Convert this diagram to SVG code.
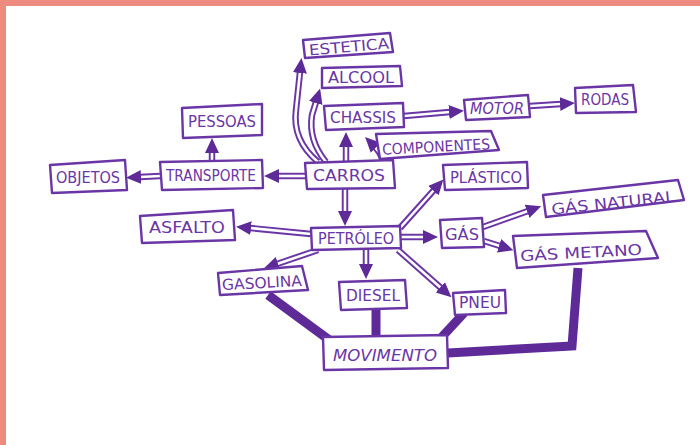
<svg xmlns="http://www.w3.org/2000/svg" width="700" height="445" viewBox="0 0 700 445">
<style>
.bx{fill:#fff;stroke:#6a36a6;stroke-width:2.4;stroke-linejoin:round}
.tx{font-family:"DejaVu Sans",sans-serif;font-size:15px;fill:#6a36a6;text-anchor:middle}
.so{fill:none;stroke:#6a36a6;stroke-width:6.5;stroke-linecap:butt;stroke-linejoin:round}
.si{fill:none;stroke:#fff;stroke-width:2.6;stroke-linejoin:round}
.th{fill:none;stroke:#5e2a98;stroke-width:9;stroke-linejoin:miter}
</style>
<defs>
<marker id="ah" markerUnits="userSpaceOnUse" markerWidth="16" markerHeight="16" refX="1" refY="7" orient="auto" viewBox="0 0 16 14">
<path d="M0,0 L15,7 L0,14 z" fill="#5e2a98"/>
</marker>
</defs>
<rect x="0" y="0" width="700" height="445" fill="#fff"/>
<rect x="0" y="0" width="700" height="6" fill="#ee8b80"/>
<rect x="0" y="0" width="6" height="445" fill="#ee8b80"/>

<g id="connectors">
<path class="th" d="M268,295 L332,342"/>
<path class="th" d="M376,310 L376,337"/>
<path class="th" d="M464,313 L440,339"/>
<path class="th" d="M578,268 L572,346 L448,353"/>

<path class="so" d="M318,162 Q292,140 296,110 L300,72"/><path class="si" d="M318,162 Q292,140 296,110 L300,72" marker-end="url(#ah)"/>
<path class="so" d="M326,162 Q308,140 312,115 L316,102"/><path class="si" d="M326,162 Q308,140 312,115 L316,102" marker-end="url(#ah)"/>
<path class="so" d="M346,161 L346,146"/><path class="si" d="M346,161 L346,146" marker-end="url(#ah)"/>
<path class="so" d="M382,158 Q379,151 375,147"/><path class="si" d="M382,158 Q379,151 375,147" marker-end="url(#ah)"/>
<path class="so" d="M404,116 L450,112"/><path class="si" d="M404,116 L450,112" marker-end="url(#ah)"/>
<path class="so" d="M530,106 L561,104"/><path class="si" d="M530,106 L561,104" marker-end="url(#ah)"/>
<path class="so" d="M305,176 L278,176"/><path class="si" d="M305,176 L278,176" marker-end="url(#ah)"/>
<path class="so" d="M160,176 L140,177"/><path class="si" d="M160,176 L140,177" marker-end="url(#ah)"/>
<path class="so" d="M212,161 L212,152"/><path class="si" d="M212,161 L212,152" marker-end="url(#ah)"/>
<path class="so" d="M345,189 L345,212"/><path class="si" d="M345,189 L345,212" marker-end="url(#ah)"/>
<path class="so" d="M311,234 L250,228"/><path class="si" d="M311,234 L250,228" marker-end="url(#ah)"/>
<path class="so" d="M400,228 L434,190"/><path class="si" d="M400,228 L434,190" marker-end="url(#ah)"/>
<path class="so" d="M401,237 L424,237"/><path class="si" d="M401,237 L424,237" marker-end="url(#ah)"/>
<path class="so" d="M483,227 L528,211"/><path class="si" d="M483,227 L528,211" marker-end="url(#ah)"/>
<path class="so" d="M484,241 L500,246"/><path class="si" d="M484,241 L500,246" marker-end="url(#ah)"/>
<path class="so" d="M318,250 L277,264"/><path class="si" d="M318,250 L277,264" marker-end="url(#ah)"/>
<path class="so" d="M366,250 L366,265"/><path class="si" d="M366,250 L366,265" marker-end="url(#ah)"/>
<path class="so" d="M398,250 L441,288"/><path class="si" d="M398,250 L441,288" marker-end="url(#ah)"/>
</g>

<g id="n-estetica"><polygon class="bx" points="303,40 390,33 393,52 305,58"/><text class="tx" x="349" y="52" transform="rotate(-5 349 47)" textLength="80" lengthAdjust="spacingAndGlyphs">ESTETICA</text></g>
<g id="n-alcool"><polygon class="bx" points="322,68 400,66 402,86 322,88"/><text class="tx" x="361" y="83" textLength="66" lengthAdjust="spacingAndGlyphs">ALCOOL</text></g>
<g id="n-chassis"><polygon class="bx" points="324,106 403,103 404,127 326,130"/><text class="tx" x="363" y="123" textLength="66" lengthAdjust="spacingAndGlyphs">CHASSIS</text></g>
<g id="n-motor"><polygon class="bx" points="464,100 528,95 530,117 466,120"/><text class="tx" x="497" y="114" textLength="54" lengthAdjust="spacingAndGlyphs" font-style="italic">MOTOR</text></g>
<g id="n-rodas"><polygon class="bx" points="575,88 633,85 636,112 576,113"/><text class="tx" x="605" y="105" textLength="48" lengthAdjust="spacingAndGlyphs">RODAS</text></g>
<g id="n-componentes"><polygon class="bx" points="376,134 491,131 499,150 380,159"/><text class="tx" x="436" y="152" transform="rotate(-3 436 146)" textLength="108" lengthAdjust="spacingAndGlyphs">COMPONENTES</text></g>
<g id="n-pessoas"><polygon class="bx" points="182,108 262,104 262,135 183,138"/><text class="tx" x="222" y="127" textLength="68" lengthAdjust="spacingAndGlyphs">PESSOAS</text></g>
<g id="n-transporte"><polygon class="bx" points="160,162 262,160 263,188 162,190"/><text class="tx" x="211" y="181" textLength="90" lengthAdjust="spacingAndGlyphs">TRANSPORTE</text></g>
<g id="n-objetos"><polygon class="bx" points="50,165 125,160 127,190 52,193"/><text class="tx" x="88" y="183" textLength="64" lengthAdjust="spacingAndGlyphs">OBJETOS</text></g>
<g id="n-carros"><polygon class="bx" points="305,163 393,160 395,188 307,189"/><text class="tx" x="349" y="181" textLength="72" lengthAdjust="spacingAndGlyphs">CARROS</text></g>
<g id="n-plastico"><polygon class="bx" points="443,165 527,162 528,188 445,190"/><text class="tx" x="486" y="183" textLength="72" lengthAdjust="spacingAndGlyphs">PLÁSTICO</text></g>
<g id="n-gasnatural"><polygon class="bx" points="543,195 678,180 684,200 546,217"/><text class="tx" x="613" y="208" transform="rotate(-6 613 202)" textLength="124" lengthAdjust="spacingAndGlyphs">GÁS NATURAL</text></g>
<g id="n-asfalto"><polygon class="bx" points="140,216 233,210 235,240 142,243"/><text class="tx" x="187" y="233" textLength="76" lengthAdjust="spacingAndGlyphs">ASFALTO</text></g>
<g id="n-petroleo"><polygon class="bx" points="311,228 400,226 401,248 312,250"/><text class="tx" x="356" y="244" textLength="76" lengthAdjust="spacingAndGlyphs">PETRÓLEO</text></g>
<g id="n-gas"><polygon class="bx" points="440,220 482,218 484,247 442,248"/><text class="tx" x="462" y="240" textLength="34" lengthAdjust="spacingAndGlyphs">GÁS</text></g>
<g id="n-gasmetano"><polygon class="bx" points="513,236 646,231 658,258 517,268"/><text class="tx" x="581" y="258" transform="rotate(-3 581 252)" textLength="122" lengthAdjust="spacingAndGlyphs">GÁS METANO</text></g>
<g id="n-gasolina"><polygon class="bx" points="218,273 302,266 308,290 220,295"/><text class="tx" x="262" y="288" transform="rotate(-3 262 283)" textLength="80" lengthAdjust="spacingAndGlyphs">GASOLINA</text></g>
<g id="n-diesel"><polygon class="bx" points="339,282 405,280 407,308 341,310"/><text class="tx" x="373" y="301" textLength="54" lengthAdjust="spacingAndGlyphs">DIESEL</text></g>
<g id="n-pneu"><polygon class="bx" points="453,293 505,290 506,313 455,315"/><text class="tx" x="480" y="308" textLength="42" lengthAdjust="spacingAndGlyphs">PNEU</text></g>
<g id="n-movimento"><polygon class="bx" points="323,337 447,335 448,368 324,370"/><text class="tx" x="385" y="361" textLength="104" lengthAdjust="spacingAndGlyphs" font-style="italic">MOVIMENTO</text></g>
</svg>
